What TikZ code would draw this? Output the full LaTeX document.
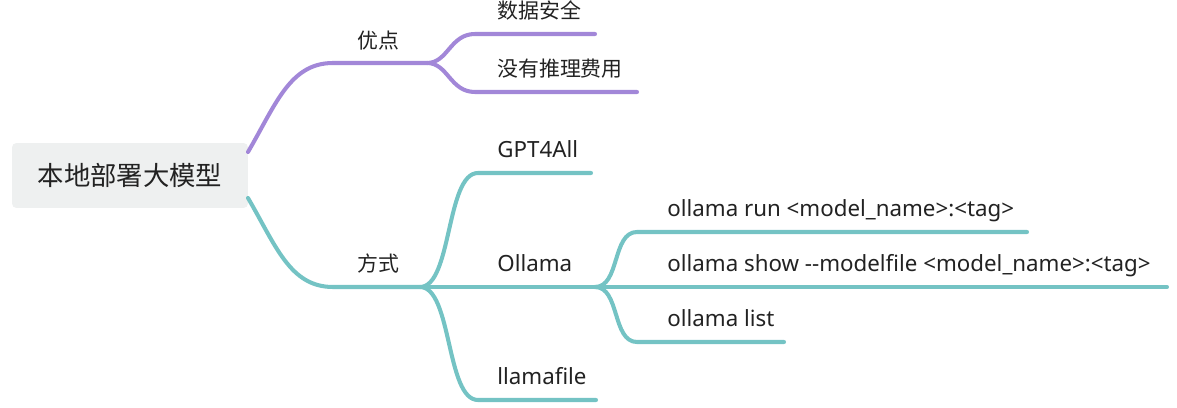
\documentclass[tikz,border=0pt]{standalone}
\usepackage{fontspec}
\setmainfont{Noto Sans}
\newfontfamily\cjk{Noto Sans CJK SC}
\definecolor{purp}{RGB}{162,135,216}
\definecolor{tealb}{RGB}{116,195,196}
\definecolor{rootbg}{RGB}{238,240,240}
\definecolor{txt}{RGB}{34,34,34}
\tikzset{
  lbl/.style={anchor=base west,inner sep=0pt,text=txt,font=\fontsize{12.7}{15}\selectfont},
  zh/.style={lbl,font=\cjk\fontsize{11.9}{14}\selectfont},
  br/.style={line width=2.3pt,line cap=round}
}

\begin{document}
\begin{tikzpicture}[x=0.02cm,y=-0.02cm]
\useasboundingbox (0,0) rectangle (1177,408);

\node (root) at (130,175.5) [fill=rootbg,rounded corners=2.5pt,minimum width=4.72cm,minimum height=1.3cm,inner sep=0pt,text=txt,font=\cjk\fontsize{15}{18}\selectfont] {本地部署大模型};

\node[zh] (adv) at (357,49) {优点};
\node[zh] (adv1) at (497,19) {数据安全};
\node[zh] (adv2) at (497,77) {没有推理费用};
\node[zh] (way) at (357,272) {方式};
\node[lbl] (gpt) at (497,158) {GPT4All};
\node[lbl] (oll) at (497,272) {Ollama};
\node[lbl] (llf) at (497,385) {llamafile};
\node[lbl] (run) at (667,217) {ollama run <model\_name>:<tag>};
\node[lbl] (show) at (667,272) {ollama show -{}-modelfile <model\_name>:<tag>};
\node[lbl] (list) at (667,327) {ollama list};

\coordinate (v1) at (248,152);
\coordinate (v2) at (333,63);
\coordinate (v3) at (427,63);
\coordinate (v4) at (475,34);
\coordinate (v5) at (595,34);
\coordinate (v6) at (475,92);
\coordinate (v7) at (637,92);
\coordinate (v8) at (248,198);
\coordinate (v9) at (333,287);
\coordinate (v10) at (420,287);
\coordinate (v11) at (478,173);
\coordinate (v12) at (591,173);
\coordinate (v13) at (478,400);
\coordinate (v14) at (596,400);
\coordinate (v15) at (595,287);
\coordinate (v16) at (1167,287);
\coordinate (v17) at (637,232);
\coordinate (v18) at (1027,232);
\coordinate (v19) at (637,342);
\coordinate (v20) at (784,342);

\draw [br,purp] (v1) .. controls (276,104) and (290,63) .. (v2) -- (v3);
\draw [br,purp] (v3) .. controls (448,63) and (450,34) .. (v4) -- (v5);
\draw [br,purp] (v3) .. controls (448,63) and (450,92) .. (v6) -- (v7);
\draw [br,tealb] (v8) .. controls (276,246) and (290,287) .. (v9) -- (v10);
\draw [br,tealb] (v10) .. controls (452,287) and (446,173) .. (v11) -- (v12);
\draw [br,tealb] (v10) .. controls (452,287) and (446,400) .. (v13) -- (v14);
\draw [br,tealb] (v10) -- (v15) -- (v16);
\draw [br,tealb] (v15) .. controls (620,287) and (612,232) .. (v17) -- (v18);
\draw [br,tealb] (v15) .. controls (620,287) and (612,342) .. (v19) -- (v20);
\end{tikzpicture}
\end{document}
